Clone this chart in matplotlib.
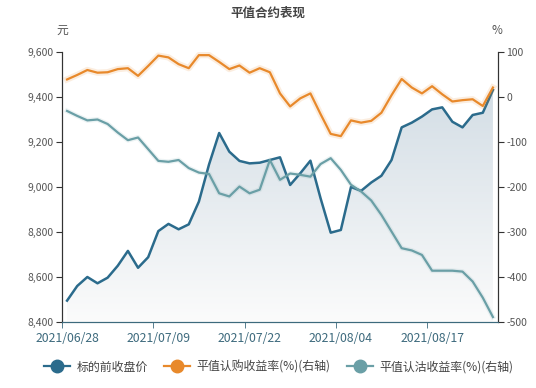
import numpy as np
import matplotlib.pyplot as plt
from matplotlib.lines import Line2D

plt.rcParams['font.family'] = ['Noto Sans CJK SC', 'DejaVu Sans']

dates = ["2021/06/28", "2021/06/29", "2021/06/30", "2021/07/01", "2021/07/02",
         "2021/07/05", "2021/07/06", "2021/07/07", "2021/07/08", "2021/07/09",
         "2021/07/12", "2021/07/13", "2021/07/14", "2021/07/15", "2021/07/16",
         "2021/07/19", "2021/07/20", "2021/07/21", "2021/07/22", "2021/07/23",
         "2021/07/26", "2021/07/27", "2021/07/28", "2021/07/29", "2021/07/30",
         "2021/08/02", "2021/08/03", "2021/08/04", "2021/08/05", "2021/08/06",
         "2021/08/09", "2021/08/10", "2021/08/11", "2021/08/12", "2021/08/13",
         "2021/08/16", "2021/08/17", "2021/08/18", "2021/08/19", "2021/08/20",
         "2021/08/23", "2021/08/24", "2021/08/25"]

# 标的前收盘价 (left axis)
close = [8495, 8560, 8600, 8572, 8597, 8650, 8716, 8641, 8688, 8804,
         8836, 8812, 8834, 8935, 9100, 9240, 9157, 9116, 9105, 9108,
         9120, 9132, 9009, 9061, 9117, 8950, 8797, 8809, 9000, 8983,
         9020, 9050, 9120, 9265, 9286, 9313, 9345, 9354, 9290, 9265,
         9320, 9330, 9431]

# 平值认购收益率 (right axis)
call_ret = [39, 49, 60, 54, 55, 62, 64, 47, 69, 92,
            88, 73, 64, 93, 93, 78, 62, 70, 54, 64,
            55, 8, -21, -3, 8, -38, -82, -87, -52, -57,
            -53, -35, 4, 40, 21, 8, 24, 6, -10, -7,
            -5, -20, 21]

# 平值认沽收益率 (right axis)
put_ret = [-31, -42, -52, -50, -60, -79, -96, -90, -116, -142,
           -144, -140, -158, -168, -171, -214, -221, -199, -214, -206,
           -140, -184, -170, -173, -177, -149, -136, -162, -195, -210,
           -230, -262, -299, -336, -341, -351, -386, -386, -386, -388,
           -410, -446, -489]

c_close = "#2b6b8c"
c_call = "#e8892b"
c_put = "#6a9fa6"
txt = "#555555"

fig = plt.figure(figsize=(5.36, 3.88), dpi=100)
ax = fig.add_axes([62 / 536, 1 - 322 / 388, 436 / 536, 270 / 388])
ax2 = ax.twinx()

x = np.arange(len(dates))
ax.set_xlim(-0.5, len(dates) - 0.5)
ax.set_ylim(8400, 9600)
ax2.set_ylim(-500, 100)

# gradient area under the close line
grad = np.linspace(0, 1, 256).reshape(-1, 1)
top_c = np.array([0.83, 0.87, 0.90])
bot_c = np.array([0.985, 0.985, 0.985])
img = top_c * (1 - grad[..., None]) + bot_c * grad[..., None]
img = img.reshape(256, 1, 3)
im = ax.imshow(img, extent=[0, len(dates) - 1, 8400, max(close)], aspect="auto",
               origin="upper", zorder=1)
poly = ax.fill_between(x, close, 8400, color="none")
clip = poly.get_paths()[0]
im.set_clip_path(clip, transform=ax.transData)

ax.plot(x, close, color=c_close, lw=1.8, zorder=3)
ax2.plot(x, call_ret, color=c_call, lw=4.5, alpha=0.15, zorder=2)
ax2.plot(x, call_ret, color=c_call, lw=1.6, zorder=3)
ax2.plot(x, put_ret, color=c_put, lw=3.5, alpha=0.12, zorder=2)
ax2.plot(x, put_ret, color=c_put, lw=1.6, zorder=3)

# axes styling
for a in (ax, ax2):
    a.spines["top"].set_visible(False)
    a.spines["left"].set_color("#333333")
    a.spines["right"].set_color("#333333")
    a.spines["bottom"].set_color("#3d6a7d")

ax.set_yticks(np.arange(8400, 9601, 200))
ax.set_yticklabels([f"{v:,}" for v in range(8400, 9601, 200)])
ax.tick_params(axis="y", length=4, color="#333333", labelsize=7.5, labelcolor=txt, pad=2)
ax2.set_yticks(np.arange(-500, 101, 100))
ax2.set_yticklabels([str(v) for v in range(-500, 101, 100)])
ax2.tick_params(axis="y", length=4, color="#333333", labelsize=7.5, labelcolor=txt, pad=2)

label_idx = list(range(0, len(dates), 9))
ax.set_xticks(label_idx)
ax.set_xticklabels([dates[i] for i in label_idx])
ax.set_xticks([i - 0.5 for i in label_idx], minor=True)
ax.tick_params(axis="x", which="major", length=0, labelsize=8.8, labelcolor="#3d6a7d", pad=7)
ax.tick_params(axis="x", which="minor", length=4, color="#3d6a7d")

fig.text(62 / 536, 1 - 30 / 388, "元", fontsize=8.5, color=txt, ha="center", va="center")
fig.text(497 / 536, 1 - 30 / 388, "%", fontsize=8.5, color=txt, ha="center", va="center")
fig.text(0.5, 1 - 13 / 388, "平值合约表现", fontsize=9, fontweight="bold", color="#444444",
         ha="center", va="center")

handles = [
    Line2D([], [], color=c_close, lw=1.6, marker="o", markersize=9),
    Line2D([], [], color=c_call, lw=1.6, marker="o", markersize=9),
    Line2D([], [], color=c_put, lw=1.6, marker="o", markersize=9),
]
labels = ["标的前收盘价", "平值认购收益率(%)(右轴)", "平值认沽收益率(%)(右轴)"]
fig.legend(handles, labels, loc="center", bbox_to_anchor=(0.52, 1 - 367 / 388), ncol=3,
           frameon=False, fontsize=8.6, handlelength=2.2, handletextpad=0.5,
           columnspacing=1.4, labelcolor="#444444")

fig.savefig("out.png", dpi=100)
